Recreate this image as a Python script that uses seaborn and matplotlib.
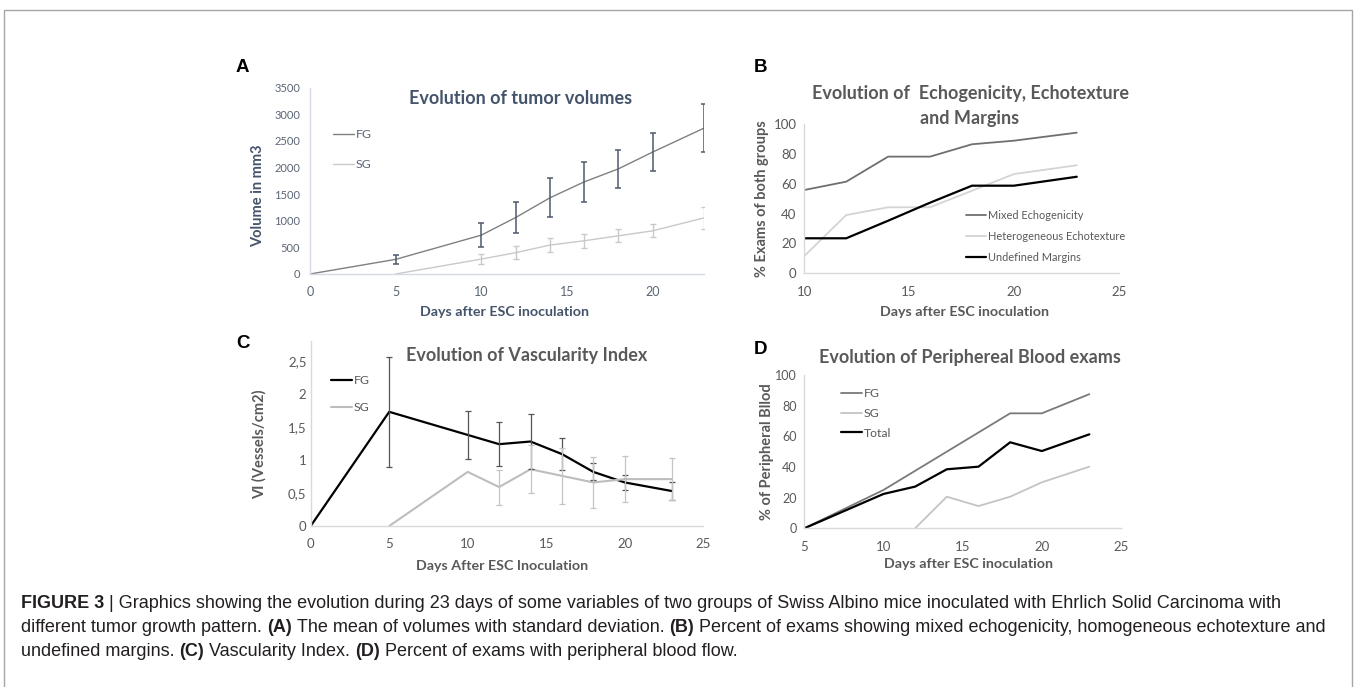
import numpy as np
import pandas as pd
import matplotlib
matplotlib.use("Agg")
import matplotlib.pyplot as plt
import matplotlib.transforms as mtransforms
from matplotlib import font_manager
from matplotlib.patches import Rectangle
import seaborn as sns

# ---------------- data ----------------
days_A_fg = [0, 5, 10, 12, 14, 16, 18, 20, 23]
vol_fg = [0, 275, 730, 1060, 1430, 1730, 1975, 2290, 2740]
vol_fg_sd = [0, 85, 220, 290, 365, 368, 355, 352, 450]
days_A_sg = [5, 10, 12, 14, 16, 18, 20, 23]
vol_sg = [0, 280, 400, 543, 624, 717, 811, 1054]
vol_sg_sd = [0, 90, 125, 137, 128, 125, 125, 212]

days_B = [10, 12, 14, 16, 18, 20, 23]
mixed_echo = [55.9, 61.5, 78.3, 78.3, 86.6, 89.0, 94.4]
hetero_echo = [11.6, 39.1, 44.3, 44.3, 55.4, 66.6, 72.5]
undef_margins = [23.5, 23.5, 35.3, 47.4, 58.8, 58.8, 64.8]

days_C_fg = [0, 5, 10, 12, 14, 16, 18, 20, 23]
vi_fg = [0, 1.73, 1.38, 1.24, 1.28, 1.09, 0.82, 0.66, 0.53]
vi_fg_sd = [0, 0.83, 0.36, 0.335, 0.41, 0.24, 0.13, 0.12, 0.13]
days_C_sg = [5, 10, 12, 14, 16, 18, 20, 23]
vi_sg = [0, 0.82, 0.59, 0.86, 0.76, 0.66, 0.71, 0.71]
vi_sg_sd = [0, 0, 0.265, 0.36, 0.42, 0.39, 0.345, 0.32]

days_D_fg = [5, 10, 12, 14, 16, 18, 20, 23]
pb_fg = [0, 25, 37.5, 50, 62.5, 75, 75, 87.5]
days_D_sg = [12, 14, 16, 18, 20, 23]
pb_sg = [0, 20.6, 14.5, 20.6, 30, 40.2]
days_D_tot = [5, 10, 12, 14, 16, 18, 20, 23]
pb_tot = [0, 22.4, 27.2, 38.5, 40.2, 56.1, 50.4, 61.3]

ticks_A_x = [0, 5, 10, 15, 20]
ticks_A_y = [0, 500, 1000, 1500, 2000, 2500, 3000, 3500]
ticks_B_x = [10, 15, 20, 25]
ticks_pct = [0, 20, 40, 60, 80, 100]
ticks_C_x = [0, 5, 10, 15, 20, 25]
ticks_C_y = [0, 0.5, 1, 1.5, 2, 2.5]
ticks_C_ylabels = ["0", "0,5", "1", "1,5", "2", "2,5"]
ticks_D_x = [5, 10, 15, 20, 25]

# ---------------- style ----------------
sns.set_theme(style="white")
names = {f.name for f in font_manager.fontManager.ttflist}
MAIN = "Lato" if "Lato" in names else "DejaVu Sans"
CAP = "Liberation Sans Narrow" if "Liberation Sans Narrow" in names else "Liberation Sans"
plt.rcParams["font.family"] = [MAIN, "DejaVu Sans"]

W, H = 1355, 687
fig = plt.figure(figsize=(W / 100, H / 100), dpi=100)
fig.patch.set_facecolor("white")


def fx(px):
    return px / W


def fy(py):
    return 1 - py / H


def make_ax(x0, x1, y0, y1):
    return fig.add_axes([fx(x0), fy(y0), (x1 - x0) / W, (y0 - y1) / H])


BLUE_TXT = "#44546a"
GRAY_TXT = "#595959"
TITLE_SIZE = 13
XLAB_SIZE = 10.3
YLAB_SIZE = 10.5
LETTER_SIZE = 13.5


def style_ax(ax, spine_col, tick_col, xsize, ysize, ypad):
    for s in ["top", "right"]:
        ax.spines[s].set_visible(False)
    for s in ["left", "bottom"]:
        ax.spines[s].set_color(spine_col)
        ax.spines[s].set_linewidth(1.0)
    ax.tick_params(axis="x", length=3, width=0.8, color=spine_col, pad=6,
                   labelsize=xsize, labelcolor=tick_col, direction="out")
    ax.tick_params(axis="y", length=0, pad=ypad, labelsize=ysize, labelcolor=tick_col)
    ax.set_xlabel("")
    ax.set_ylabel("")
    ax.grid(False)
    ax.set_facecolor("none")


def errbars(ax, x, y, sd, color, lw=1.0, cap=2.3):
    x = np.asarray(x, float)
    y = np.asarray(y, float)
    sd = np.asarray(sd, float)
    m = sd > 0
    ax.errorbar(x[m], y[m], yerr=sd[m], fmt="none", ecolor=color, elinewidth=lw,
                capsize=cap, capthick=lw, zorder=3)


def letter(px, py, s):
    fig.text(fx(px), fy(py), s, ha="left", va="center", fontsize=LETTER_SIZE, fontweight="bold",
             color="black", family=["Liberation Sans", "DejaVu Sans"])


# ---------------- Panel A ----------------
axA = make_ax(310, 704, 274, 87.7)
dfA_fg = pd.DataFrame({"day": days_A_fg, "val": vol_fg})
dfA_sg = pd.DataFrame({"day": days_A_sg, "val": vol_sg})
sns.lineplot(data=dfA_fg, x="day", y="val", ax=axA, color="#808080", linewidth=1.0, label="FG")
sns.lineplot(data=dfA_sg, x="day", y="val", ax=axA, color="#c9c9c9", linewidth=1.0, label="SG")
errbars(axA, days_A_fg, vol_fg, vol_fg_sd, "#4f5a6e", lw=1.1)
errbars(axA, days_A_sg, vol_sg, vol_sg_sd, "#c9c9c9", lw=1.0)
axA.set_xlim(0, 23)
axA.set_ylim(0, 3500)
axA.set_xticks(ticks_A_x)
axA.set_yticks(ticks_A_y)
style_ax(axA, "#d6dae6", "#5b6475", 9, 8, 7)
axA.legend(loc="upper left", bbox_to_anchor=(fx(333), fy(129)), bbox_transform=fig.transFigure,
           frameon=False, fontsize=8.8, handlelength=1.7, handletextpad=0.15,
           labelspacing=1.55, borderpad=0, borderaxespad=0, labelcolor="#5b6475")
fig.text(fx(521), fy(98), "Evolution of tumor volumes", ha="center", va="center",
         fontsize=TITLE_SIZE, fontweight="bold", color=BLUE_TXT)
fig.text(fx(258), fy(196), "Volume in mm3", rotation=90, ha="center", va="center",
         fontsize=YLAB_SIZE, fontweight="bold", color=BLUE_TXT)
fig.text(fx(504), fy(311.5), "Days after ESC inoculation", ha="center", va="center",
         fontsize=XLAB_SIZE, fontweight="bold", color=BLUE_TXT)
letter(236, 68, "A")

# ---------------- Panel B ----------------
axB = make_ax(804.3, 1118.7, 273.3, 124.3)
dfB = pd.DataFrame({"day": days_B * 3,
                    "val": mixed_echo + hetero_echo + undef_margins,
                    "series": ["Mixed Echogenicity"] * len(days_B)
                    + ["Heterogeneous Echotexture"] * len(days_B)
                    + ["Undefined Margins"] * len(days_B)})
palB = {"Mixed Echogenicity": "#6f6f6f", "Heterogeneous Echotexture": "#d4d4d4",
        "Undefined Margins": "#000000"}
for name, lw in [("Mixed Echogenicity", 1.3), ("Heterogeneous Echotexture", 1.3),
                 ("Undefined Margins", 1.6)]:
    sns.lineplot(data=dfB[dfB.series == name], x="day", y="val", ax=axB,
                 color=palB[name], linewidth=lw, label=name)
axB.set_xlim(10, 25)
axB.set_ylim(0, 100)
axB.set_xticks(ticks_B_x)
axB.set_yticks(ticks_pct)
style_ax(axB, "#d9d9d9", GRAY_TXT, 9.5, 9.5, 5.5)
axB.legend(loc="upper left", bbox_to_anchor=(fx(966), fy(210)), bbox_transform=fig.transFigure,
           frameon=False, fontsize=7.9, handlelength=1.85, handletextpad=0.15,
           labelspacing=0.92, borderpad=0, borderaxespad=0, labelcolor=GRAY_TXT)
fig.text(fx(970), fy(93.5), "Evolution of  Echogenicity, Echotexture", ha="center", va="center",
         fontsize=TITLE_SIZE, fontweight="bold", color=GRAY_TXT)
fig.text(fx(970), fy(118.5), "and Margins", ha="center", va="center",
         fontsize=TITLE_SIZE, fontweight="bold", color=GRAY_TXT)
fig.text(fx(762), fy(199), "% Exams of both groups", rotation=90, ha="center", va="center",
         fontsize=YLAB_SIZE, fontweight="bold", color=GRAY_TXT)
fig.text(fx(965), fy(311.5), "Days after ESC inoculation", ha="center", va="center",
         fontsize=XLAB_SIZE, fontweight="bold", color=GRAY_TXT)
letter(754, 67, "B")

# ---------------- Panel C ----------------
axC = make_ax(310.7, 703.2, 526, 341.2)
dfC_fg = pd.DataFrame({"day": days_C_fg, "val": vi_fg})
dfC_sg = pd.DataFrame({"day": days_C_sg, "val": vi_sg})
sns.lineplot(data=dfC_fg, x="day", y="val", ax=axC, color="#000000", linewidth=1.6, label="FG")
sns.lineplot(data=dfC_sg, x="day", y="val", ax=axC, color="#bdbdbd", linewidth=1.5, label="SG")
errbars(axC, days_C_fg, vi_fg, vi_fg_sd, "#555555", lw=0.9)
errbars(axC, days_C_sg, vi_sg, vi_sg_sd, "#c4c4c4", lw=0.9)
axC.set_xlim(0, 25)
axC.set_ylim(0, 2.8)
axC.set_xticks(ticks_C_x)
axC.set_yticks(ticks_C_y)
axC.set_yticklabels(ticks_C_ylabels)
style_ax(axC, "#d9d9d9", GRAY_TXT, 9.5, 9.5, 3)
axC.legend(loc="upper left", bbox_to_anchor=(fx(331), fy(375)), bbox_transform=fig.transFigure,
           frameon=False, fontsize=8.8, handlelength=1.7, handletextpad=0.15,
           labelspacing=1.3, borderpad=0, borderaxespad=0, labelcolor=GRAY_TXT)
fig.text(fx(527), fy(355), "Evolution of Vascularity Index", ha="center", va="center",
         fontsize=TITLE_SIZE, fontweight="bold", color=GRAY_TXT)
fig.text(fx(259), fy(444), "VI (Vessels/cm2)", rotation=90, ha="center", va="center",
         fontsize=YLAB_SIZE, fontweight="bold", color=GRAY_TXT)
fig.text(fx(502), fy(566.5), "Days After ESC Inoculation", ha="center", va="center",
         fontsize=XLAB_SIZE, fontweight="bold", color=GRAY_TXT)
letter(236, 343, "C")

# ---------------- Panel D ----------------
axD = make_ax(804.3, 1121, 528.3, 375)
dfD = pd.DataFrame({"day": days_D_fg + days_D_sg + days_D_tot,
                    "val": pb_fg + pb_sg + pb_tot,
                    "series": ["FG"] * len(days_D_fg) + ["SG"] * len(days_D_sg)
                    + ["Total"] * len(days_D_tot)})
palD = {"FG": "#7a7a7a", "SG": "#c4c4c4", "Total": "#000000"}
for name, lw in [("FG", 1.3), ("SG", 1.3), ("Total", 1.6)]:
    sns.lineplot(data=dfD[dfD.series == name], x="day", y="val", ax=axD,
                 color=palD[name], linewidth=lw, label=name)
axD.set_xlim(5, 25)
axD.set_ylim(0, 100)
axD.set_xticks(ticks_D_x)
axD.set_yticks(ticks_pct)
style_ax(axD, "#d9d9d9", GRAY_TXT, 9.5, 9, 5.5)
axD.legend(loc="upper left", bbox_to_anchor=(fx(841), fy(388)), bbox_transform=fig.transFigure,
           frameon=False, fontsize=8.8, handlelength=1.7, handletextpad=0.15,
           labelspacing=0.72, borderpad=0, borderaxespad=0, labelcolor=GRAY_TXT)
fig.text(fx(970), fy(358), "Evolution of Periphereal Blood exams", ha="center", va="center",
         fontsize=TITLE_SIZE, fontweight="bold", color=GRAY_TXT)
fig.text(fx(767), fy(452), "% of Peripheral Bllod", rotation=90, ha="center", va="center",
         fontsize=YLAB_SIZE, fontweight="bold", color=GRAY_TXT)
fig.text(fx(968), fy(563.5), "Days after ESC inoculation", ha="center", va="center",
         fontsize=XLAB_SIZE, fontweight="bold", color=GRAY_TXT)
letter(754, 350, "D")

# ---------------- frame ----------------
fig.add_artist(Rectangle((fx(3.5), -0.05), (1348) / W, fy(10) + 0.05, transform=fig.transFigure,
                         fill=False, edgecolor="#a6a6a6", linewidth=1.0))

# ---------------- caption ----------------
renderer = fig.canvas.get_renderer()
ident = mtransforms.IdentityTransform()
CAP_COL = "#231f20"


def text_w(s, size, bold):
    t = fig.text(0, 0, s, fontsize=size, fontweight="bold" if bold else "normal",
                 family=[CAP, "DejaVu Sans"], transform=ident)
    w = t.get_window_extent(renderer).width
    t.remove()
    return w


def seg_width(s, size, bold):
    sp = text_w("a a", size, bold) - text_w("aa", size, bold)
    core = s.strip(" ")
    lead = len(s) - len(s.lstrip(" "))
    trail = len(s) - len(s.rstrip(" "))
    return core, lead * sp, text_w(core, size, bold) if core else 0, trail * sp


def draw_line(x, y_top, segments, size):
    cur = x
    for s, bold in segments:
        core, lw_, cw, tw = seg_width(s, size, bold)
        cur += lw_
        if core:
            fig.text(cur, H - y_top, core, fontsize=size, fontweight="bold" if bold else "normal",
                     family=[CAP, "DejaVu Sans"], transform=ident, ha="left", va="center",
                     color=CAP_COL)
        cur += cw + tw
    return cur


cap1 = [("FIGURE 3", True), (" | Graphics showing the evolution during 23 days of some variables of two groups of Swiss Albino mice inoculated with Ehrlich Solid Carcinoma with", False)]
cap2 = [("different tumor growth pattern. ", False), ("(A)", True), (" The mean of volumes with standard deviation. ", False), ("(B)", True), (" Percent of exams showing mixed echogenicity, homogeneous echotexture and", False)]
cap3 = [("undefined margins. ", False), ("(C)", True), (" Vascularity Index. ", False), ("(D)", True), (" Percent of exams with peripheral blood flow.", False)]


def line_width(segments, size):
    tot = 0
    for s, bold in segments:
        core, a, b, c = seg_width(s, size, bold)
        tot += a + b + c
    return tot


base = 11
w1 = line_width(cap1, base)
cap_size = base * (1250 / w1)
draw_line(21, 604, cap1, cap_size)
draw_line(21, 628, cap2, cap_size)
draw_line(21, 651.5, cap3, cap_size)

fig.savefig("out.png", dpi=100, facecolor="white")
